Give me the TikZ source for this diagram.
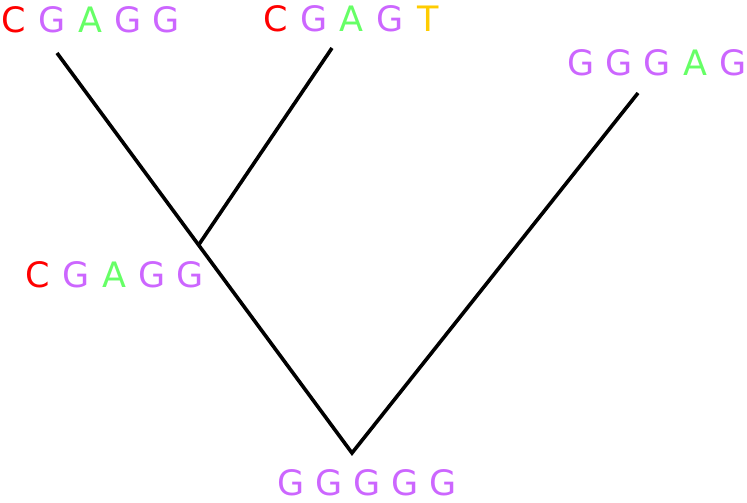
\documentclass[tikz,border=0pt]{standalone}
\usepackage{fontspec}
\setmainfont{DejaVu Sans}
\usetikzlibrary{calc}
\definecolor{baseC}{RGB}{255, 0, 0}
\definecolor{baseG}{RGB}{204, 102, 255}
\definecolor{baseA}{RGB}{102, 255, 102}
\definecolor{baseT}{RGB}{255, 204, 0}
\newcommand{\basebox}[2]{\makebox[38pt]{\color{#1}#2}}
\newcommand{\bC}{\basebox{baseC}{C}}
\newcommand{\bG}{\basebox{baseG}{G}}
\newcommand{\bA}{\basebox{baseA}{A}}
\newcommand{\bT}{\basebox{baseT}{T}}
\begin{document}
\begin{tikzpicture}[
      x=1pt, y=-1pt,
      seq/.style={anchor=base west, inner sep=0pt, font=\fontsize{35}{42}\selectfont},
      branch/.style={draw=black, line width=3.6pt}
    ]
      \useasboundingbox (0,0) rectangle (747,503);
      % leaves
      \node[seq] (seqA) at (-5, 33) {\bC\bG\bA\bG\bG};
      \node[seq] (seqB) at (256.5, 32) {\bC\bG\bA\bG\bT};
      \node[seq] (seqC) at (562, 75) {\bG\bG\bG\bA\bG};
      % tree
      \coordinate (leafA) at (57, 53);
      \coordinate (leafB) at (332, 48);
      \coordinate (leafC) at (638, 93);
      \coordinate (root) at (352, 453);
      \coordinate (inner) at ($(leafA)!0.48!(root)$);
      \draw[branch] (leafA) -- (root) -- (leafC);
      \draw[branch] (leafB) -- (inner);
      % ancestors
      \node[seq] (seqAB) at (19, 287) {\bC\bG\bA\bG\bG};
      \node[seq] (seqRoot) at (272, 495) {\bG\bG\bG\bG\bG};
    \end{tikzpicture}
\end{document}
